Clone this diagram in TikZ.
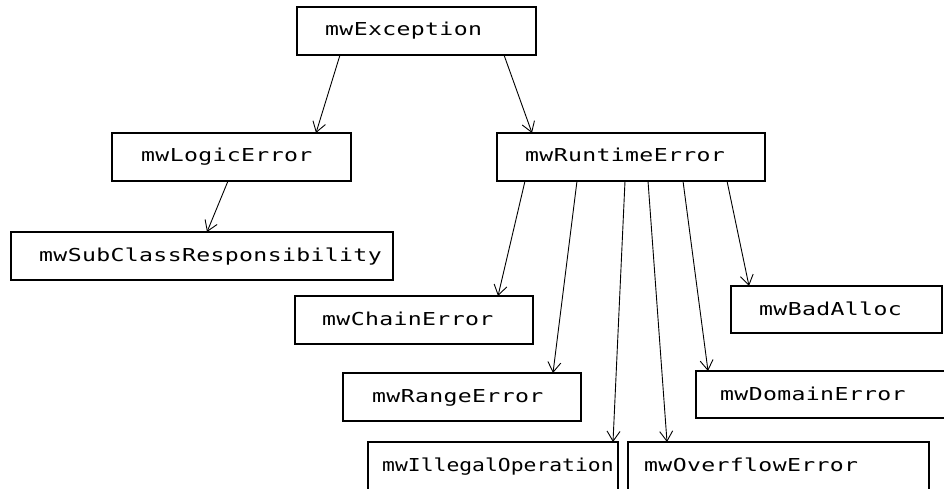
\documentclass[tikz,border=0pt]{standalone}
\usepackage{fontspec}
\newfontfamily\classfont[FakeStretch=1.3,LetterSpace=2]{DejaVu Sans Mono}
\newfontfamily\classfonttight[FakeStretch=1.2]{DejaVu Sans Mono}
\usetikzlibrary{arrows.meta}

\begin{document}
\begin{tikzpicture}[x=1pt,y=-1pt,
  box/.style={draw, line width=2pt, rectangle, outer sep=0pt, inner sep=0pt,
              minimum height=48pt, anchor=north west},
  lbl/.style={anchor=base west, inner sep=0pt,
              font=\classfont\fontsize{17.8}{20}\selectfont},
  lbltight/.style={lbl, font=\classfonttight\fontsize{17.8}{20}\selectfont},
  arr/.style={line width=0.9pt, -{Straight Barb[length=10pt,width=13pt]}}]

\useasboundingbox (0,0) rectangle (944,489);
\clip (0,0) rectangle (944,489);

% class boxes
\node[box, minimum width=239pt] (exc)   at (297,7)   {};
\node[box, minimum width=239pt] (logic) at (112,133) {};
\node[box, minimum width=382pt] (sub)   at (11,232)  {};
\node[box, minimum width=268pt] (rt)    at (497,133) {};
\node[box, minimum width=238pt] (chain) at (295,296) {};
\node[box, minimum width=238pt] (range) at (343,373) {};
\node[box, minimum width=211pt, minimum height=47pt] (bad) at (731,286) {};
\node[box, minimum width=254pt, minimum height=47pt] (dom) at (696,371) {};
\node[box, minimum width=250pt, minimum height=60pt] (ill) at (368,442) {};
\node[box, minimum width=301pt, minimum height=60pt] (ovf) at (628,442) {};

% class names
\node[lbl] (exc-t)   at (325,36)  {mwException};
\node[lbl] (logic-t) at (141,162) {mwLogicError};
\node[lbl] (sub-t)   at (39,261)  {mwSubClassResponsibility};
\node[lbl] (rt-t)    at (525,162) {mwRuntimeError};
\node[lbl] (chain-t) at (322,325) {mwChainError};
\node[lbl] (range-t) at (372,402) {mwRangeError};
\node[lbl] (bad-t)   at (759,315) {mwBadAlloc};
\node[lbl] (dom-t)   at (720,400) {mwDomainError};
\node[lbltight] (ill-t) at (382,471) {mwIllegalOperation};
\node[lbl] (ovf-t)   at (644,471) {mwOverflowError};

% inheritance arrows
\draw[arr] ([xshift=43pt]exc.south west)    -- ([xshift=204pt]logic.north west);
\draw[arr] ([xshift=207pt]exc.south west)   -- ([xshift=35pt]rt.north west);
\draw[arr] ([xshift=116pt]logic.south west) -- ([xshift=196pt]sub.north west);
\draw[arr] ([xshift=28pt]rt.south west)     -- ([xshift=203pt]chain.north west);
\draw[arr] ([xshift=80pt]rt.south west)     -- ([xshift=210pt]range.north west);
\draw[arr] ([xshift=128pt]rt.south west)    -- ([xshift=245pt]ill.north west);
\draw[arr] ([xshift=151pt]rt.south west)    -- ([xshift=39pt]ovf.north west);
\draw[arr] ([xshift=186pt]rt.south west)    -- ([xshift=12pt]dom.north west);
\draw[arr] ([xshift=230pt]rt.south west)    -- ([xshift=18pt]bad.north west);
\end{tikzpicture}
\end{document}
